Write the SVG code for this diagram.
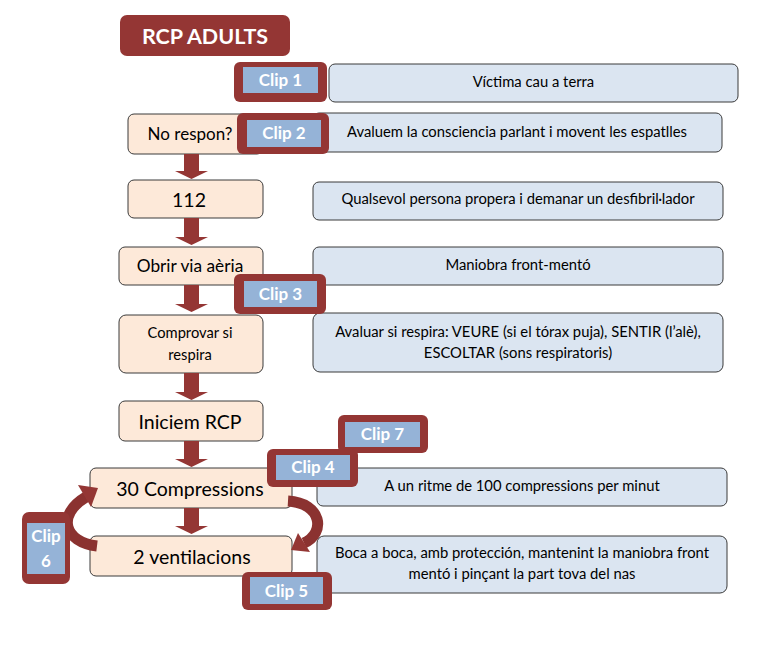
<svg xmlns="http://www.w3.org/2000/svg" width="771" height="672" viewBox="0 0 771 672">
<style>
  .step rect { fill: #FDE9D9; stroke: #3a3a3a; stroke-width: 1; }
  .info rect { fill: #DBE5F1; stroke: #3a3a3a; stroke-width: 1; }
  .step text { font-family: Lato, "Liberation Sans", sans-serif; fill: #000; text-anchor: middle; }
  .info text { font-family: Lato, "Liberation Sans", sans-serif; fill: #000; text-anchor: middle; font-size: 14.8px; }
  .clip .o { fill: #943634; }
  .clip .i { fill: #95B3D7; }
  .clip text { font-family: Lato, "Liberation Sans", sans-serif; font-weight: bold; fill: #fff; text-anchor: middle; font-size: 17px; }
  .arrow { fill: #943634; }
  .curve { fill: none; stroke: #8b3230; stroke-width: 11; }
</style>
<rect width="771" height="672" fill="#fff"/>

<g id="title">
  <rect x="120" y="15" width="170" height="41" rx="7" fill="#943634"/>
  <text x="205" y="44" font-family="Lato, 'Liberation Sans', sans-serif" font-weight="bold" font-size="21.5px" fill="#fff" text-anchor="middle">RCP ADULTS</text>
</g>

<g id="info1" class="info"><rect x="329" y="64" width="409" height="38" rx="6"/><text x="533.5" y="87">Víctima cau a terra</text></g>
<g id="info2" class="info"><rect x="313" y="113" width="409" height="39" rx="6"/><text x="517" y="137">Avaluem la consciencia parlant i movent les espatlles</text></g>
<g id="info3" class="info"><rect x="313" y="182" width="410" height="38" rx="6"/><text x="518" y="204">Qualsevol persona propera i demanar un desfibril·lador</text></g>
<g id="info4" class="info"><rect x="313" y="247" width="410" height="38" rx="6"/><text x="518" y="270">Maniobra front-mentó</text></g>
<g id="info5" class="info"><rect x="313" y="313" width="410" height="59" rx="7"/><text x="518" y="337">Avaluar si respira: VEURE (si el tórax puja), SENTIR (l’alè),</text><text x="518" y="358">ESCOLTAR (sons respiratoris)</text></g>
<g id="info6" class="info"><rect x="317" y="468" width="410" height="38" rx="6"/><text x="522" y="491">A un ritme de 100 compressions per minut</text></g>
<g id="info7" class="info"><rect x="317" y="536" width="410" height="57" rx="7"/><text x="522" y="558">Boca a boca, amb protección, mantenint la maniobra front</text><text x="522" y="579">mentó i pinçant la part tova del nas</text></g>

<g id="noRespon" class="step"><rect x="128" y="114" width="135" height="40" rx="6"/><text x="190" y="140" font-size="17px">No respon?</text></g>
<g id="n112" class="step"><rect x="128" y="180" width="135" height="38" rx="6"/><text x="189" y="207" font-size="19.5px">112</text></g>
<g id="obrir" class="step"><rect x="119" y="247" width="144" height="38" rx="6"/><text x="190" y="272" font-size="17.3px">Obrir via aèria</text></g>
<g id="comprovar" class="step"><rect x="119" y="315" width="144" height="58" rx="7"/><text x="190" y="338" font-size="14.7px">Comprovar si</text><text x="190" y="360" font-size="14.7px">respira</text></g>
<g id="iniciem" class="step"><rect x="119" y="401" width="144" height="40" rx="6"/><text x="190" y="429" font-size="19.5px">Iniciem RCP</text></g>
<g id="compressions" class="step"><rect x="90" y="468" width="202" height="40" rx="6"/><text x="190" y="496" font-size="19.5px">30 Compressions</text></g>
<g id="ventilacions" class="step"><rect x="90" y="536" width="202" height="40" rx="6"/><text x="192" y="564" font-size="19.5px">2 ventilacions</text></g>

<g id="connectors">
  <polygon class="arrow" points="184,154 199,154 199,171 208,171 191.5,179 175,171 184,171"/>
  <polygon class="arrow" points="184,218 199,218 199,237 208,237 191.5,245 175,237 184,237"/>
  <polygon class="arrow" points="184,285 199,285 199,304 208,304 191.5,312 175,304 184,304"/>
  <polygon class="arrow" points="184,373 199,373 199,392 208,392 191.5,400 175,392 184,392"/>
  <polygon class="arrow" points="184,441 199,441 199,459 208,459 191.5,467 175,459 184,459"/>
  <polygon class="arrow" points="184,508 199,508 199,526 208,526 191.5,534 175,526 184,526"/>
  <path class="curve" d="M 288 501 C 322 503, 326 533, 304 543"/>
  <polygon class="arrow" points="291,550 298,533 310,552"/>
  <path class="curve" d="M 97 546 C 64 542, 56 515, 86 497"/>
  <polygon class="arrow" points="98,488 78,485 91,507"/>
</g>

<g id="clip1" class="clip"><rect class="o" x="234" y="62" width="93" height="40" rx="6"/><rect class="i" x="243" y="67" width="75" height="26"/><text x="280.5" y="86">Clip 1</text></g>
<g id="clip2" class="clip"><rect class="o" x="237" y="113" width="92" height="41" rx="6"/><rect class="i" x="247" y="120" width="74" height="27"/><text x="284" y="139">Clip 2</text></g>
<g id="clip3" class="clip"><rect class="o" x="234" y="274" width="92" height="40" rx="6"/><rect class="i" x="244" y="281" width="73" height="26"/><text x="280.5" y="300">Clip 3</text></g>
<g id="clip7" class="clip"><rect class="o" x="338" y="415" width="90" height="38" rx="6"/><rect class="i" x="345" y="422" width="75" height="25"/><text x="382.5" y="440">Clip 7</text></g>
<g id="clip4" class="clip"><rect class="o" x="267" y="449" width="91" height="38" rx="6"/><rect class="i" x="276" y="455" width="74" height="25"/><text x="313" y="473">Clip 4</text></g>
<g id="clip5" class="clip"><rect class="o" x="242" y="572" width="90" height="38" rx="6"/><rect class="i" x="250" y="577" width="73" height="27"/><text x="286.5" y="597">Clip 5</text></g>
<g id="clip6" class="clip"><rect class="o" x="22" y="512" width="48" height="72" rx="7"/><rect class="i" x="27" y="523" width="38" height="51"/><text x="46" y="542">Clip</text><text x="46" y="567">6</text></g>
</svg>
